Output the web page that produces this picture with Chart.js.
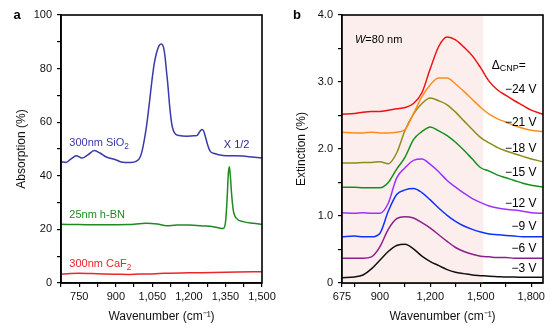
<!DOCTYPE html>
<html lang="en">
<head>
<meta charset="UTF-8">
<title>Absorption and extinction spectra</title>
<script src="https://cdn.jsdelivr.net/npm/chart.js"></script>
<style>
    body { margin: 0; background: #fff; }
    #wrap { position: relative; width: 558px; height: 334px; }
    #wrap canvas { position: absolute; top: 0; }
    #chartA { left: 0; }
    #chartB { left: 280px; }
</style>
</head>
<body>
<div id="wrap">
    <canvas id="chartA" width="279" height="334"></canvas>
    <canvas id="chartB" width="278" height="334"></canvas>
</div>
<script>
// ---- panel a: absorption (%) vs wavenumber (cm-1)
const SIO2_WN  = [675, 695, 715, 738, 761, 785, 812, 835, 861, 894, 927, 960, 985, 1000, 1012, 1026, 1040, 1047, 1057, 1067, 1077, 1087, 1095, 1102, 1108, 1113, 1121, 1129, 1141, 1160, 1191, 1220, 1232, 1245, 1253, 1260, 1268, 1277, 1287, 1305, 1340, 1380, 1420, 1460, 1500];
const SIO2_ABS = [45.3, 45.0, 46.2, 47.5, 46.6, 47.8, 49.4, 48.5, 47.0, 46.2, 45.1, 45.0, 45.5, 47.0, 51.0, 58.5, 69.0, 74.6, 81.5, 85.8, 88.5, 89.2, 88.2, 84.5, 79.0, 74.6, 66.0, 59.7, 56.0, 55.0, 54.8, 54.9, 55.0, 56.5, 57.3, 56.8, 54.5, 51.5, 49.2, 48.3, 47.6, 47.5, 47.4, 47.0, 46.6];

const HBN_WN  = [675, 750, 850, 950, 1026, 1070, 1108, 1150, 1200, 1260, 1300, 1320, 1340, 1350, 1356, 1362, 1366, 1370, 1375, 1382, 1395, 1423, 1464, 1500];
const HBN_ABS = [21.9, 21.8, 21.7, 21.8, 22.3, 22.0, 21.4, 21.6, 21.6, 21.3, 21.0, 20.6, 20.3, 22.5, 30.0, 41.0, 43.4, 40.0, 33.5, 27.2, 24.1, 22.9, 22.3, 21.9];

const CAF2_WN  = [675, 750, 800, 900, 950, 1000, 1050, 1100, 1200, 1300, 1400, 1500];
const CAF2_ABS = [3.3, 3.6, 3.5, 3.3, 3.2, 3.4, 3.4, 3.6, 3.8, 3.9, 4.1, 4.2];

const A_X_TICKS  = [675, 750, 825, 900, 975, 1050, 1125, 1200, 1275, 1350, 1425, 1500];
const A_X_LABELS = [750, 900, 1050, 1200, 1350, 1500];

// ---- panel b: extinction (%) vs wavenumber, one curve per gate voltage
const B_WN = [675, 750, 800, 850, 900, 950, 1000, 1050, 1100, 1150, 1200, 1250, 1300, 1350, 1400, 1450, 1500, 1550, 1600, 1650, 1700, 1750, 1800, 1870];
const EXT_M3  = [0.08, 0.09, 0.12, 0.21, 0.34, 0.47, 0.56, 0.58, 0.51, 0.40, 0.32, 0.26, 0.20, 0.16, 0.14, 0.12, 0.11, 0.10, 0.095, 0.09, 0.09, 0.085, 0.085, 0.085];
const EXT_M6  = [0.37, 0.37, 0.37, 0.39, 0.54, 0.80, 0.96, 0.99, 0.97, 0.90, 0.82, 0.72, 0.62, 0.53, 0.47, 0.43, 0.40, 0.39, 0.38, 0.38, 0.37, 0.37, 0.37, 0.37];
const EXT_M9  = [0.69, 0.70, 0.69, 0.69, 0.74, 1.07, 1.32, 1.39, 1.41, 1.35, 1.24, 1.12, 1.01, 0.92, 0.85, 0.80, 0.76, 0.73, 0.72, 0.71, 0.70, 0.69, 0.69, 0.69];
const EXT_M12 = [1.05, 1.04, 1.05, 1.04, 1.04, 1.19, 1.57, 1.72, 1.83, 1.85, 1.77, 1.66, 1.53, 1.43, 1.34, 1.26, 1.20, 1.15, 1.12, 1.10, 1.09, 1.07, 1.05, 1.04];
const EXT_M15 = [1.43, 1.43, 1.42, 1.42, 1.42, 1.50, 1.70, 1.88, 2.14, 2.26, 2.33, 2.27, 2.20, 2.10, 1.98, 1.85, 1.72, 1.67, 1.61, 1.57, 1.53, 1.49, 1.46, 1.43];
const EXT_M18 = [1.79, 1.79, 1.80, 1.80, 1.81, 1.78, 1.94, 2.28, 2.52, 2.68, 2.76, 2.72, 2.66, 2.55, 2.42, 2.29, 2.17, 2.09, 2.02, 1.97, 1.93, 1.89, 1.85, 1.81];
const EXT_M21 = [2.25, 2.24, 2.24, 2.25, 2.24, 2.24, 2.25, 2.29, 2.53, 2.78, 2.96, 3.06, 3.06, 2.97, 2.86, 2.74, 2.62, 2.52, 2.45, 2.40, 2.35, 2.31, 2.28, 2.26];
const EXT_M24 = [2.52, 2.53, 2.55, 2.56, 2.56, 2.58, 2.60, 2.62, 2.68, 2.84, 3.20, 3.53, 3.67, 3.63, 3.52, 3.39, 3.21, 3.01, 2.88, 2.80, 2.72, 2.65, 2.58, 2.52];

const B_X_TICKS  = [675, 750, 900, 1050, 1200, 1350, 1500, 1650, 1800];
const B_X_LABELS = [675, 900, 1200, 1500, 1800];
const SHADE_WN = [675, 1515];

Chart.defaults.font.family = "'Liberation Sans', Arial, Helvetica, sans-serif";
Chart.defaults.color = '#111';

function pts(xs, ys) {
    return xs.map((x, i) => ({ x: x, y: ys[i] }));
}

function line(label, data, color) {
    return {
        label: label,
        data: data,
        borderColor: color,
        borderWidth: 1.5,
        pointRadius: 0,
        fill: false,
        cubicInterpolationMode: 'monotone'
    };
}

// text with a smaller lowered part, e.g. SiO2 or Delta_CNP
function drawSub(ctx, x, y, main, sub, tail, size, color, align) {
    ctx.save();
    ctx.fillStyle = color;
    ctx.textBaseline = 'middle';
    ctx.font = size + "px 'Liberation Sans', Arial, sans-serif";
    const w1 = ctx.measureText(main).width;
    ctx.font = (size * 0.75) + "px 'Liberation Sans', Arial, sans-serif";
    const w2 = ctx.measureText(sub).width;
    ctx.font = size + "px 'Liberation Sans', Arial, sans-serif";
    const w3 = tail ? ctx.measureText(tail).width : 0;
    let x0 = align === 'right' ? x - (w1 + w2 + w3) : x;
    ctx.textAlign = 'left';
    ctx.fillText(main, x0, y);
    ctx.font = (size * 0.75) + "px 'Liberation Sans', Arial, sans-serif";
    ctx.fillText(sub, x0 + w1, y + size * 0.3);
    if (tail) {
        ctx.font = size + "px 'Liberation Sans', Arial, sans-serif";
        ctx.fillText(tail, x0 + w1 + w2, y);
    }
    ctx.restore();
}

function frame(ctx, area) {
    ctx.save();
    ctx.strokeStyle = '#000';
    ctx.lineWidth = 1.6;
    ctx.strokeRect(area.left, area.top, area.right - area.left, area.bottom - area.top);
    ctx.restore();
}

function xAxis(min, max, ticks, labels) {
    return {
        type: 'linear',
        min: min,
        max: max,
        afterBuildTicks: s => { s.ticks = ticks.map(v => ({ value: v })); },
        afterFit: s => { s.height = 51; },
        ticks: {
            autoSkip: false,
            maxRotation: 0,
            padding: 3,
            font: { size: 11 },
            color: '#111',
            callback: v => labels.includes(v) ? v.toLocaleString('en-US') : ''
        },
        grid: { drawOnChartArea: false, drawTicks: true, tickLength: 4, color: '#000', lineWidth: 1.2 },
        border: { display: true, color: '#000', width: 1.6 },
        title: {
            display: true,
            text: 'Wavenumber (cm\u207B\u00B9)',
            font: { size: 12 },
            color: '#111',
            padding: { top: 0, bottom: 10 }
        }
    };
}

function yAxis(max, step, fmt, title, width) {
    return {
        type: 'linear',
        min: 0,
        max: max,
        afterFit: s => { s.width = width; },
        ticks: { stepSize: step, padding: 5, font: { size: 11 }, color: '#111', callback: fmt },
        grid: { drawOnChartArea: false, drawTicks: true, tickLength: 4, color: '#000', lineWidth: 1.2 },
        border: { display: true, color: '#000', width: 1.6 },
        title: { display: true, text: title, font: { size: 12 }, color: '#111', padding: { top: 14, bottom: 0 } }
    };
}

// ---------------- panel a
const annotA = {
    id: 'annotA',
    afterDraw(chart) {
        const { ctx, chartArea, scales } = chart;
        const X = v => scales.x.getPixelForValue(v), Y = v => scales.y.getPixelForValue(v);
        frame(ctx, chartArea);
        ctx.save();
        ctx.font = "bold 13px 'Liberation Sans', Arial, sans-serif";
        ctx.fillStyle = '#000';
        ctx.textBaseline = 'middle';
        ctx.textAlign = 'center';
        ctx.fillText('a', chartArea.left - 44, chartArea.top);
        ctx.font = "11px 'Liberation Sans', Arial, sans-serif";
        ctx.textAlign = 'left';
        ctx.fillStyle = '#2b2b8c';
        ctx.fillText('X 1/2', X(1343), Y(51.5));
        ctx.fillStyle = '#1f8a1f';
        ctx.fillText('25nm h-BN', X(709), Y(25.4));
        ctx.restore();
        drawSub(ctx, X(709), Y(52.2), '300nm SiO', '2', '', 11, '#3a3aa8', 'left');
        drawSub(ctx, X(709), Y(7.1), '300nm CaF', '2', '', 11, '#e8262b', 'left');
    }
};

new Chart(document.getElementById('chartA'), {
    type: 'line',
    data: {
        datasets: [
            line('300nm SiO2', pts(SIO2_WN, SIO2_ABS), '#3a3aa8'),
            line('25nm h-BN', pts(HBN_WN, HBN_ABS), '#1f8a1f'),
            line('300nm CaF2', pts(CAF2_WN, CAF2_ABS), '#e8262b')
        ]
    },
    options: {
        responsive: false,
        animation: false,
        layout: { padding: { left: 0, right: 17, top: 15, bottom: 0 } },
        plugins: { legend: { display: false }, tooltip: { enabled: false } },
        scales: {
            x: xAxis(675, 1500, A_X_TICKS, A_X_LABELS),
            y: yAxis(100, 10, v => v % 20 === 0 ? String(v) : '', 'Absorption (%)', 61)
        }
    },
    plugins: [annotA]
});

// ---------------- panel b
const annotB = {
    id: 'annotB',
    beforeDatasetsDraw(chart) {
        const { ctx, chartArea, scales } = chart;
        const x0 = scales.x.getPixelForValue(SHADE_WN[0]);
        const x1 = scales.x.getPixelForValue(SHADE_WN[1]);
        ctx.save();
        ctx.fillStyle = '#fdeeee';
        ctx.fillRect(x0, chartArea.top, x1 - x0, chartArea.bottom - chartArea.top);
        ctx.restore();
    },
    afterDraw(chart) {
        const { ctx, chartArea, scales } = chart;
        const X = v => scales.x.getPixelForValue(v), Y = v => scales.y.getPixelForValue(v);
        frame(ctx, chartArea);
        ctx.save();
        ctx.fillStyle = '#000';
        ctx.textBaseline = 'middle';
        ctx.font = "bold 13px 'Liberation Sans', Arial, sans-serif";
        ctx.textAlign = 'center';
        ctx.fillText('b', chartArea.left - 45, chartArea.top);
        // W=80 nm, W in italics
        ctx.textAlign = 'left';
        ctx.font = "italic 11px 'Liberation Sans', Arial, sans-serif";
        const wx = X(752), wy = Y(3.63);
        ctx.fillText('W', wx, wy);
        const ww = ctx.measureText('W').width;
        ctx.font = "11px 'Liberation Sans', Arial, sans-serif";
        ctx.fillText('=80 nm', wx + ww, wy);
        // gate voltage labels
        ctx.font = "12px 'Liberation Sans', Arial, sans-serif";
        ctx.textAlign = 'right';
        const volts = [['\u221224 V', 2.88], ['\u221221 V', 2.40], ['\u221218 V', 2.01], ['\u221215 V', 1.64],
                       ['\u221212 V', 1.19], ['\u22129 V', 0.84], ['\u22126 V', 0.51], ['\u22123 V', 0.21]];
        volts.forEach(([t, v]) => ctx.fillText(t, X(1832), Y(v)));
        ctx.restore();
        drawSub(ctx, X(1565), Y(3.25), '\u0394', 'CNP', '=', 12, '#000', 'left');
    }
};

new Chart(document.getElementById('chartB'), {
    type: 'line',
    data: {
        datasets: [
            line('-24 V', pts(B_WN, EXT_M24), '#ee1111'),
            line('-21 V', pts(B_WN, EXT_M21), '#ff8c1a'),
            line('-18 V', pts(B_WN, EXT_M18), '#8c8c16'),
            line('-15 V', pts(B_WN, EXT_M15), '#12911a'),
            line('-12 V', pts(B_WN, EXT_M12), '#9b33ff'),
            line('-9 V', pts(B_WN, EXT_M9), '#1030ff'),
            line('-6 V', pts(B_WN, EXT_M6), '#8e1e8e'),
            line('-3 V', pts(B_WN, EXT_M3), '#111111')
        ]
    },
    options: {
        responsive: false,
        animation: false,
        layout: { padding: { left: 0, right: 15, top: 15, bottom: 0 } },
        plugins: { legend: { display: false }, tooltip: { enabled: false } },
        scales: {
            x: xAxis(675, 1870, B_X_TICKS, B_X_LABELS),
            y: yAxis(4, 0.5, v => v === 0 ? '0' : (v % 1 === 0 ? v.toFixed(1) : ''), 'Extinction (%)', 62)
        }
    },
    plugins: [annotB]
});
</script>
</body>
</html>
